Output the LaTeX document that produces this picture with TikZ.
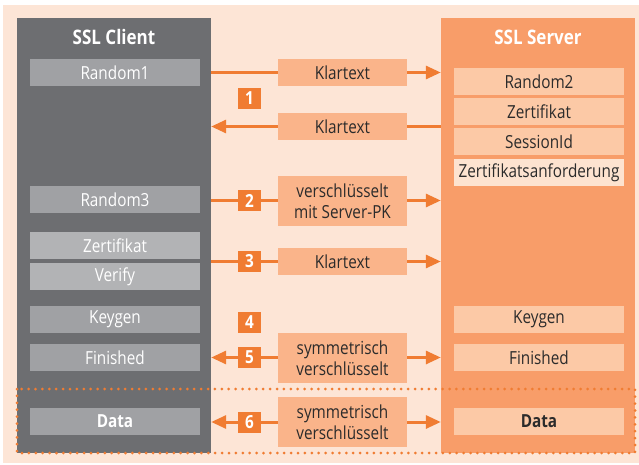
\documentclass[tikz,border=0pt]{standalone}
\usepackage{fontspec}
\setmainfont{Open Sans}[FakeStretch=0.85]
\usetikzlibrary{arrows.meta}
\definecolor{bgpeach}{HTML}{FDE5D6}
\definecolor{cgray}{HTML}{6D6E71}
\definecolor{cbox}{HTML}{A0A1A4}
\definecolor{cboxl}{HTML}{B2B3B5}
\definecolor{scol}{HTML}{F89D69}
\definecolor{sbox}{HTML}{FCC9A6}
\definecolor{sboxl}{HTML}{FDE3D0}
\definecolor{mbox}{HTML}{FAB48A}
\definecolor{orng}{HTML}{F07C32}
\definecolor{dtext}{HTML}{2B2B2B}
\pgfdeclarelayer{back}
\pgfdeclarelayer{conn}
\pgfsetlayers{back,conn,main}
\begin{document}
\begin{tikzpicture}[x=1pt,y=-1pt,
  font=\fontsize{18}{21}\selectfont,
  column/.style={fill=#1,draw=none,minimum width=194pt,minimum height=435pt,inner sep=0pt},
  title/.style={text=white,font=\fontsize{20}{22}\selectfont\bfseries,inner sep=0pt},
  clbox/.style={fill=cbox,text=white,minimum width=170pt,minimum height=27pt,inner sep=0pt},
  svbox/.style={fill=sbox,text=dtext,minimum width=170pt,minimum height=27pt,inner sep=0pt},
  midbox/.style={fill=mbox,text=dtext,minimum width=129pt,minimum height=27pt,inner sep=0pt,align=center},
  numbox/.style={fill=orng,text=white,font=\fontsize{18}{20}\selectfont\bfseries,minimum width=23pt,minimum height=21pt,inner sep=0pt},
  conline/.style={draw=orng,line width=3pt},
  conarrow/.style={draw=orng,line width=3pt,-{Triangle[length=15pt,width=13pt]}},
  dotbox/.style={draw=orng,line width=3pt,line cap=round,dash pattern=on 0pt off 6.9pt}
]
\useasboundingbox (0,0) rectangle (639,465);
\begin{pgfonlayer}{back}
  \fill[bgpeach] (3,5) rectangle (639,463);
\end{pgfonlayer}

% columns
\node[column=cgray] (cl) at (114,235.5) {};
\node[column=scol] (sv) at (538,235.5) {};
\node[title] (clt) at (114,37) {SSL Client};
\node[title] (svt) at (538,37) {SSL Server};

% client boxes
\node[clbox] (c1) at (115,72.5) {Random1};
\node[clbox] (c3) at (115,199.5) {Random3};
\node[clbox,fill=cboxl] (cz) at (115,245.5) {Zertifikat};
\node[clbox,fill=cboxl] (cv) at (115,276.5) {Verify};
\node[clbox] (ck) at (115,319.5) {Keygen};
\node[clbox] (cf) at (115,357.5) {Finished};
\node[clbox,font=\fontsize{18}{21}\selectfont\bfseries] (cd) at (115,421.5) {Data};

% server boxes
\node[svbox] (s2) at (539,81.5) {Random2};
\node[svbox] (sz) at (539,111.5) {Zertifikat};
\node[svbox] (ss) at (539,141.5) {SessionId};
\node[svbox,fill=sboxl] (sa) at (539,172.5) {Zertifikatsanforderung};
\node[svbox] (sk) at (539,319.5) {Keygen};
\node[svbox] (sf) at (539,357.5) {Finished};
\node[svbox,font=\fontsize{18}{21}\selectfont\bfseries] (sd) at (539,421.5) {Data};

% middle boxes
\node[midbox] (k1) at (342.5,72.5) {Klartext};
\node[midbox] (k2) at (342.5,126.5) {Klartext};
\node[midbox,minimum height=50pt] (v2) at (342.5,201) {verschlüsselt\\mit Server-PK};
\node[midbox] (k3) at (342.5,261.5) {Klartext};
\node[midbox,minimum height=50pt] (m5) at (342.5,358) {symmetrisch\\verschlüsselt};
\node[midbox,minimum height=50pt] (m6) at (342.5,422) {symmetrisch\\verschlüsselt};

% number boxes
\node[numbox] (n1) at (249.5,98.5) {1};
\node[numbox] (n2) at (249.5,200.5) {2};
\node[numbox] (n3) at (249.5,261.5) {3};
\node[numbox] (n4) at (249.5,322) {4};
\node[numbox] (n5) at (249.5,357.5) {5};
\node[numbox] (n6) at (249.5,422) {6};

% connectors
\begin{pgfonlayer}{conn}
  \draw[conline] (k1.west -| cl.east) -- (k1.west);
  \draw[conarrow] (k1.east) -- (k1.east -| sv.west);
  \draw[conline] (k2.east -| sv.west) -- (k2.east);
  \draw[conarrow] (k2.west) -- (k2.west -| cl.east);
  \draw[conline] (n2.center -| cl.east) -- (n2.center -| v2.west);
  \draw[conarrow] (n2.center -| v2.east) -- (n2.center -| sv.west);
  \draw[conline] (k3.west -| cl.east) -- (k3.west);
  \draw[conarrow] (k3.east) -- (k3.east -| sv.west);
  \draw[conarrow] (n5.center -| m5.west) -- (n5.center -| cl.east);
  \draw[conarrow] (n5.center -| m5.east) -- (n5.center -| sv.west);
  \draw[conarrow] (n6.center -| m6.west) -- (n6.center -| cl.east);
  \draw[conarrow] (n6.center -| m6.east) -- (n6.center -| sv.west);
\end{pgfonlayer}

% data phase frame
\draw[dotbox] (17,389) rectangle (635,453);
\end{tikzpicture}
\end{document}
